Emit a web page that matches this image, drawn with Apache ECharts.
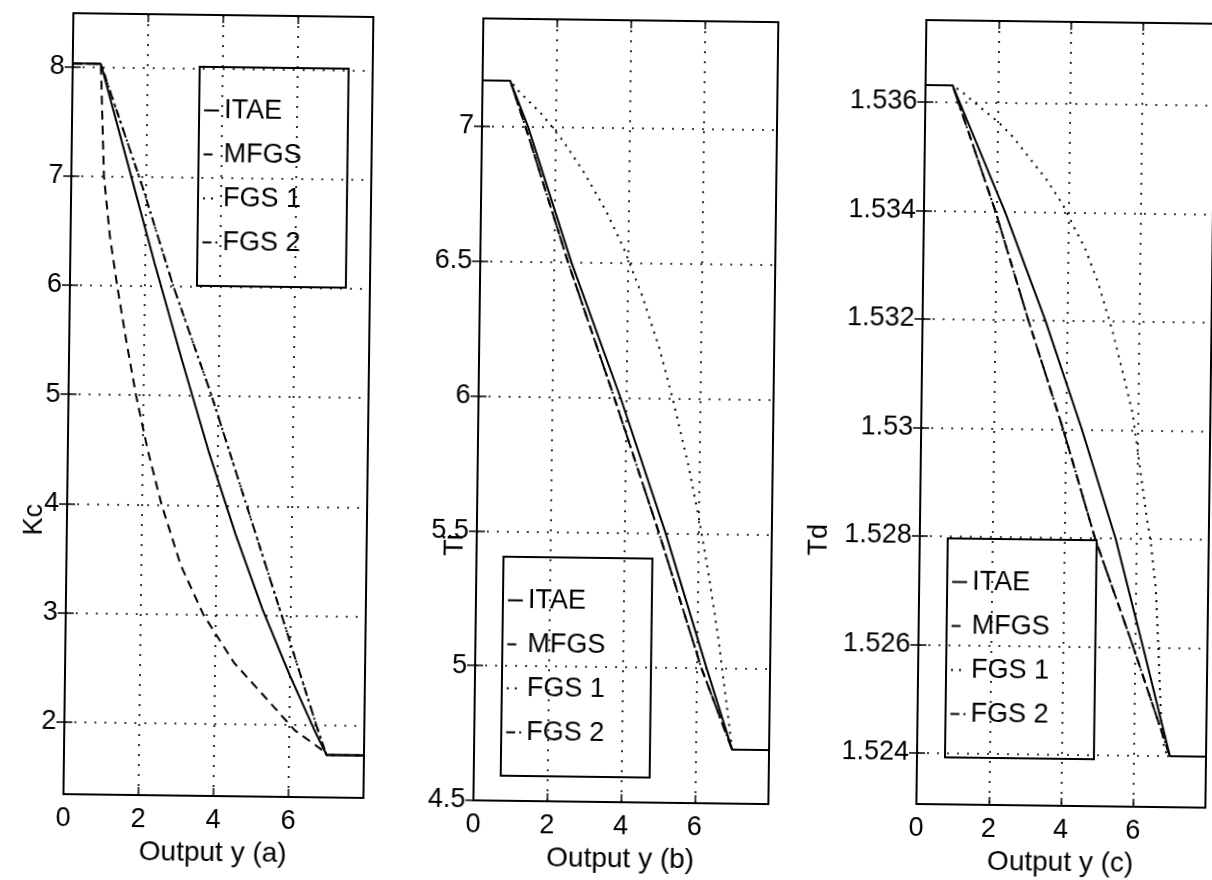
<!DOCTYPE html>
<html>
<head>
<meta charset="utf-8">
<title>Kc, Ti, Td versus output y</title>
<script src="https://cdn.jsdelivr.net/npm/echarts@6/dist/echarts.min.js"></script>
<style>
  html, body { margin: 0; padding: 0; background: #fff; overflow: hidden; }
  #chart { width: 1212px; height: 880px; transform: rotate(0.73deg); transform-origin: 50% 50%; }
</style>
</head>
<body>
<div id="chart"></div>
<script>
// ---- tick values ----
const kcTicks = [2, 3, 4, 5, 6, 7, 8];
const tiTicks = [4.5, 5, 5.5, 6, 6.5, 7];
const tdTicks = [1.524, 1.526, 1.528, 1.53, 1.532, 1.534, 1.536];
const seriesNames = ['ITAE', 'MFGS', 'FGS 1', 'FGS 2'];

// ---- (a) Kc ----
const kcItaeX = [0, 0.75, 1.5, 2.25, 3.0, 3.75, 4.5, 5.25, 6.0, 6.65, 7, 8];
const kcItaeY = [8.03, 8.03, 7.12, 6.21, 5.34, 4.5, 3.74, 3.05, 2.45, 1.97, 1.73, 1.73];
const kcMfgsX = [0, 0.75, 0.8, 0.87, 1.05, 1.26, 1.52, 1.8, 2.13, 2.52, 3.05, 3.67, 4.51, 5.32, 6.15, 6.9, 7, 8];
const kcMfgsY = [8.03, 8.03, 7.6, 7.0, 6.45, 6.0, 5.5, 5.0, 4.5, 4.0, 3.45, 3.0, 2.56, 2.26, 1.95, 1.77, 1.73, 1.73];
const kcFgs1X = [0, 0.75, 1.9, 2.76, 3.82, 4.79, 5.76, 6.72, 7, 8];
const kcFgs1Y = [8.03, 8.03, 6.91, 6.0, 5.0, 4.0, 3.0, 2.0, 1.73, 1.73];
const kcFgs2X = [0, 0.75, 1.9, 2.76, 3.82, 4.79, 5.76, 6.72, 7, 8];
const kcFgs2Y = [8.03, 8.03, 6.91, 6.0, 5.0, 4.0, 3.0, 2.0, 1.73, 1.73];

// ---- (b) Ti ----
const tiItaeX = [0, 0.75, 1.25, 2.47, 3.85, 5.12, 6.28, 7, 8];
const tiItaeY = [7.17, 7.17, 7.0, 6.5, 6.0, 5.5, 5.0, 4.7, 4.7];
const tiMfgsX = [0, 0.75, 1.18, 2.38, 3.68, 4.94, 6.14, 7, 8];
const tiMfgsY = [7.17, 7.17, 7.0, 6.5, 6.0, 5.5, 5.0, 4.7, 4.7];
const tiFgs1X = [0, 0.75, 1.0, 1.6, 2.2, 2.8, 3.4, 3.9, 4.4, 4.9, 5.3, 5.7, 6.0, 6.3, 6.6, 6.8, 6.93, 7, 8];
const tiFgs1Y = [7.17, 7.17, 7.13, 7.05, 6.95, 6.83, 6.69, 6.55, 6.38, 6.18, 5.98, 5.76, 5.57, 5.35, 5.1, 4.9, 4.77, 4.7, 4.7];
const tiFgs2X = [0, 0.75, 1.18, 2.38, 3.68, 4.94, 6.14, 7, 8];
const tiFgs2Y = [7.17, 7.17, 7.0, 6.5, 6.0, 5.5, 5.0, 4.7, 4.7];

// ---- (c) Td ----
const tdItaeX = [0, 0.75, 2.24, 3.4, 4.45, 5.42, 6.22, 7, 8];
const tdItaeY = [1.53631, 1.53631, 1.534, 1.532, 1.530, 1.528, 1.526, 1.524, 1.524];
const tdMfgsX = [0, 0.75, 1.98, 2.93, 3.93, 4.85, 5.95, 7, 8];
const tdMfgsY = [1.53631, 1.53631, 1.534, 1.532, 1.530, 1.528, 1.526, 1.524, 1.524];
const tdFgs1X = [0, 0.75, 1.0, 1.53, 2.04, 2.46, 2.83, 3.39, 3.85, 4.18, 4.46, 4.84, 5.27, 5.56, 5.85, 6.05, 6.25, 6.4, 6.55, 6.65, 6.75, 6.85, 7, 8];
const tdFgs1Y = [1.53631, 1.53631, 1.5362, 1.53591, 1.53564, 1.53536, 1.53505, 1.53459, 1.53413, 1.5337, 1.53336, 1.53272, 1.5318, 1.53106, 1.5303, 1.5294, 1.5285, 1.5279, 1.5271, 1.5259, 1.5246, 1.5241, 1.524, 1.524];
const tdFgs2X = [0, 0.75, 1.98, 2.93, 3.93, 4.85, 5.95, 7, 8];
const tdFgs2Y = [1.53631, 1.53631, 1.534, 1.532, 1.530, 1.528, 1.526, 1.524, 1.524];

// ---- styling ----
const FONT = "'Liberation Sans', Arial, Helvetica, sans-serif";
const INK = '#000';
const lineTypes = { 'ITAE': 'solid', 'MFGS': [9, 6], 'FGS 1': [2, 6], 'FGS 2': [9, 4, 2, 4] };
const gridDotted = { color: INK, width: 1.6, type: [2, 8] };

const zip = (xs, ys) => xs.map((x, i) => [x, ys[i]]);

const panels = [
  { box: { left: 68, top: 20, width: 300, height: 781 }, yMin: 1.34, yMax: 8.49, ticks: kcTicks,
    xName: 'Output y (a)', yName: 'Kc', yNamePos: [36, 527], legendPos: [195, 72],
    data: [[kcItaeX, kcItaeY], [kcMfgsX, kcMfgsY], [kcFgs1X, kcFgs1Y], [kcFgs2X, kcFgs2Y]] },
  { box: { left: 478, top: 20, width: 295, height: 782 }, yMin: 4.5, yMax: 7.4, ticks: tiTicks,
    xName: 'Output y (b)', yName: 'Ti', yNamePos: [457, 547], legendPos: [505, 558],
    data: [[tiItaeX, tiItaeY], [tiMfgsX, tiMfgsY], [tiFgs1X, tiFgs1Y], [tiFgs2X, tiFgs2Y]] },
  { box: { left: 921, top: 16, width: 289, height: 784 }, yMin: 1.52306, yMax: 1.53751, ticks: tdTicks,
    xName: 'Output y (c)', yName: 'Td', yNamePos: [821, 537], legendPos: [949, 534],
    data: [[tdItaeX, tdItaeY], [tdMfgsX, tdMfgsY], [tdFgs1X, tdFgs1Y], [tdFgs2X, tdFgs2Y]] }
];

const grid = [], xAxis = [], yAxis = [], series = [], legend = [], graphic = [];
const tickStyle = { color: INK, width: 1.5 };

panels.forEach((p, i) => {
  grid.push(Object.assign({ show: true, borderColor: INK, borderWidth: 2, backgroundColor: 'transparent',
    containLabel: false, outerBoundsMode: 'none' }, p.box));

  // bottom and top x axes
  xAxis.push({
    type: 'value', gridIndex: i, position: 'bottom', min: 0, max: 8, interval: 2,
    axisLine: { show: false },
    axisTick: { show: true, inside: true, length: 8, lineStyle: tickStyle },
    axisLabel: { show: true, showMaxLabel: false, color: INK, fontSize: 27, fontFamily: FONT, margin: 11 },
    splitLine: { show: true, lineStyle: gridDotted },
    name: p.xName, nameLocation: 'middle', nameGap: 39,
    nameTextStyle: { color: INK, fontSize: 28, fontFamily: FONT }
  });
  xAxis.push({
    type: 'value', gridIndex: i, position: 'top', min: 0, max: 8, interval: 2,
    axisLine: { show: false },
    axisTick: { show: true, inside: true, length: 8, lineStyle: tickStyle },
    axisLabel: { show: false }, splitLine: { show: false }
  });

  // left and right y axes
  yAxis.push({
    type: 'value', gridIndex: i, position: 'left', min: p.yMin, max: p.yMax,
    axisLine: { show: false },
    axisTick: { show: true, inside: true, length: 8, lineStyle: tickStyle, customValues: p.ticks },
    axisLabel: { show: true, color: INK, fontSize: 27, fontFamily: FONT, margin: 8, customValues: p.ticks },
    splitLine: { show: true, lineStyle: gridDotted }
  });
  yAxis.push({
    type: 'value', gridIndex: i, position: 'right', min: p.yMin, max: p.yMax,
    axisLine: { show: false },
    axisTick: { show: true, inside: true, length: 8, lineStyle: tickStyle, customValues: p.ticks },
    axisLabel: { show: false }, splitLine: { show: false }
  });

  p.data.forEach((d, k) => {
    const name = seriesNames[k];
    series.push({
      type: 'line', name, xAxisIndex: 2 * i, yAxisIndex: 2 * i,
      data: zip(d[0], d[1]), symbol: 'none', showSymbol: false, smooth: false,
      lineStyle: { color: INK, width: 2, type: lineTypes[name] },
      itemStyle: { color: INK }, silent: true, animation: false, z: 3
    });
  });

  legend.push({
    data: seriesNames, orient: 'vertical', left: p.legendPos[0], top: p.legendPos[1],
    padding: [30, 46, 30, 2], itemGap: 17, itemWidth: 15, itemHeight: 26,
    borderColor: INK, borderWidth: 2, backgroundColor: 'transparent', selectedMode: false,
    itemStyle: { color: 'rgba(0,0,0,0)', borderColor: 'rgba(0,0,0,0)', borderWidth: 0, opacity: 0 },
    lineStyle: { color: INK, width: 2 },
    textStyle: { color: INK, fontSize: 27, fontFamily: FONT, lineHeight: 26 }
  });

  graphic.push({
    type: 'text', x: p.yNamePos[0], y: p.yNamePos[1], rotation: Math.PI / 2,
    style: { text: p.yName, fill: INK, fontSize: 27, fontFamily: FONT, align: 'center', verticalAlign: 'middle' }
  });
});

const chart = echarts.init(document.getElementById('chart'), null, { renderer: 'canvas' });
chart.setOption({ backgroundColor: '#fff', animation: false, grid, xAxis, yAxis, series, legend, graphic });
</script>
</body>
</html>
